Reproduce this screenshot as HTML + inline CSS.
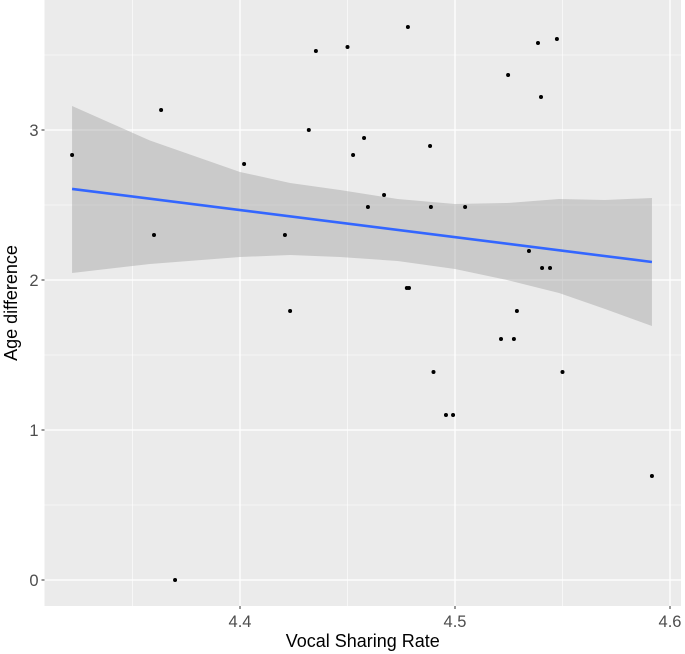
<!DOCTYPE html>
<html><head><meta charset="utf-8"><style>
body{margin:0;background:#fff;}
svg{display:block;font-family:"Liberation Sans",sans-serif;}
</style></head><body>
<svg id="chart" width="685" height="654"></svg>
<script>
const xs=[4.3219,4.3633,4.360,4.3698,4.4019,4.4209,4.4233,4.432,4.4353,4.450,4.4526,4.4577,4.4595,4.467,4.4781,4.4776,4.4786,4.4884,4.4888,4.490,4.4958,4.4991,4.5047,4.5214,4.5274,4.5247,4.5288,4.5344,4.5386,4.540,4.5405,4.5442,4.5474,4.550,4.5916];
const ys=[2.833,3.133,2.30,0,2.773,2.30,1.793,3.0,3.527,3.553,2.833,2.947,2.487,2.567,3.687,1.947,1.947,2.893,2.487,1.387,1.1,1.1,2.487,1.607,1.607,3.367,1.793,2.193,3.58,3.22,2.08,2.08,3.607,1.387,0.693];
const fitX=[4.3219,4.5916];
const fitY=[2.607,2.12];
const bandX=[4.3219,4.3581,4.4,4.4233,4.4465,4.4733,4.5,4.5242,4.5484,4.5698,4.5916];
const bandUpper=[3.16,2.93,2.72,2.647,2.60,2.54,2.507,2.513,2.54,2.533,2.547];
const bandLower=[2.047,2.107,2.153,2.167,2.153,2.127,2.073,2.0,1.913,1.807,1.693];
const xMajor=[4.4,4.5,4.6];
const xMinor=[4.35,4.45,4.55];
const yMajor=[0,1,2,3];
const yMinor=[0.5,1.5,2.5,3.5];
const xLabels=["4.4","4.5","4.6"];
const yLabels=["0","1","2","3"];

const L=44.5,R=681,T=0,B=606;
const X=v=>240+(v-4.4)*2150;
const Y=v=>580-v*150;
const svg=document.getElementById('chart');
const NS='http://www.w3.org/2000/svg';
function mk(tag,attrs,parent){const e=document.createElementNS(NS,tag);for(const k in attrs)e.setAttribute(k,attrs[k]);(parent||svg).appendChild(e);return e;}

let e=mk('rect',{x:L,y:T,width:R-L,height:B-T,fill:'#EBEBEB'});


xMinor.forEach(v=>{const l=mk('line',{x1:X(v),x2:X(v),y1:T,y2:B,stroke:'#fff','stroke-width':0.6});

});
yMinor.forEach(v=>{const l=mk('line',{x1:L,x2:R,y1:Y(v),y2:Y(v),stroke:'#fff','stroke-width':0.6});

});
xMajor.forEach((v,i)=>{const l=mk('line',{x1:X(v),x2:X(v),y1:T,y2:B,stroke:'#fff','stroke-width':1.3});


const t=mk('line',{x1:X(v),x2:X(v),y1:B,y2:B+3,stroke:'#333','stroke-width':1});


const tx=mk('text',{x:X(v),y:B+21,'text-anchor':'middle','font-size':16.5,fill:'#4D4D4D'});tx.textContent=xLabels[i];

});
yMajor.forEach((v,i)=>{const l=mk('line',{x1:L,x2:R,y1:Y(v),y2:Y(v),stroke:'#fff','stroke-width':1.3});


const t=mk('line',{x1:L-3,x2:L,y1:Y(v),y2:Y(v),stroke:'#333','stroke-width':1});


const tx=mk('text',{x:L-6,y:Y(v)+6,'text-anchor':'end','font-size':16.5,fill:'#4D4D4D'});tx.textContent=yLabels[i];

});

let d='M'+bandX.map((v,i)=>X(v)+','+Y(bandUpper[i])).join('L');
for(let i=bandX.length-1;i>=0;i--)d+='L'+X(bandX[i])+','+Y(bandLower[i]);
d+='Z';
const band=mk('path',{d:d,fill:'#999999','fill-opacity':0.4});



xs.forEach((v,i)=>{const c=mk('circle',{cx:X(v),cy:Y(ys[i]),r:2,fill:'#000'});

});

const fl=mk('line',{x1:X(fitX[0]),y1:Y(fitY[0]),x2:X(fitX[1]),y2:Y(fitY[1]),stroke:'#3366FF','stroke-width':2.6});



const xt=mk('text',{x:(L+R)/2,y:647,'text-anchor':'middle','font-size':18,fill:'#000'});xt.textContent='Vocal Sharing Rate';


const yt=mk('text',{x:0,y:0,'text-anchor':'middle','font-size':18,fill:'#000',transform:'translate(17,303) rotate(-90)'});yt.textContent='Age difference';


</script>
</body></html>
